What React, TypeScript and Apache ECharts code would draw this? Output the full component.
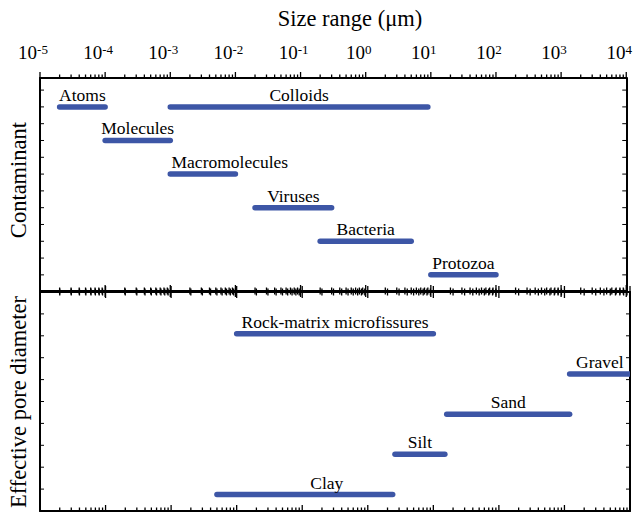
import React, { useEffect, useRef } from 'react';
import * as echarts from 'echarts';

const FONT = 'Liberation Serif';
const BAR_COLOR = '#3D56A6';

// Top panel: contaminants (size range in µm)
const contaminantNames = ['Atoms', 'Colloids', 'Molecules', 'Macromolecules', 'Viruses', 'Bacteria', 'Protozoa'];
const contaminantMin = [2e-5, 1e-3, 1e-4, 1e-3, 0.02, 0.2, 10];
const contaminantMax = [1e-4, 9, 1e-3, 1e-2, 0.3, 5, 100];
const contaminantRow = [1, 1, 2, 3, 4, 5, 6];

// Bottom panel: effective pore diameter (µm)
const poreNames = ['Rock-matrix microfissures', 'Gravel', 'Sand', 'Silt', 'Clay'];
const poreMin = [0.01, 1200, 16, 2.6, 0.005];
const poreMax = [10, 10000, 1200, 15, 2.4];
const poreRow = [1, 2, 3, 4, 5];

// Axis: decade exponents
const exponentMin = -5;
const exponentMax = 4;

const labelShift: Record<string, number> = { Macromolecules: 27, Clay: 22 };

const majorTicks: number[] = [];
for (let n = exponentMin; n <= exponentMax; n++) majorTicks.push(n);
const minorTicks: number[] = [];
for (let n = exponentMin; n < exponentMax; n++) {
  for (let k = 2; k <= 9; k++) minorTicks.push(n + Math.log10(k));
}

const topMin = 0.14;
const topMax = 6.48;
const topTicks: number[] = [];
for (let t = 0.5; t <= 6.01; t += 0.5) topTicks.push(t);
const botMin = -0.04;
const botMax = 5.41;
const botTicks: number[] = [];
for (let k = 1; k < 10; k++) botTicks.push(botMin + (k * (botMax - botMin)) / 10);

const xAxisDef = (grid: number, pos: string, showLabel: boolean) => ({
  type: 'value',
  gridIndex: grid,
  position: pos,
  min: exponentMin,
  max: exponentMax,
  interval: 1,
  axisLine: { show: true, onZero: false, lineStyle: { color: '#000', width: 2 } },
  axisTick: { show: false },
  axisLabel: showLabel
    ? {
        show: true,
        margin: 16,
        formatter: (v: number) => `{b|10}{s|${v}}`,
        rich: {
          b: { fontSize: 19, fontFamily: FONT, color: '#000' },
          s: { fontSize: 13, fontFamily: FONT, color: '#000', verticalAlign: 'top', padding: [0, 14, 0, 0] },
        },
      }
    : { show: false },
  splitLine: { show: false },
});

const yAxisDef = (grid: number, pos: string, min: number, max: number) => ({
  type: 'value',
  gridIndex: grid,
  position: pos,
  min,
  max,
  inverse: true,
  axisLine: { show: true, onZero: false, lineStyle: { color: '#000', width: 2 } },
  axisTick: { show: false },
  axisLabel: { show: false },
  splitLine: { show: false },
});

// Tick marks drawn through the axes' scales (-1 = up, +1 = down)
const tickRenderer = (
  yMin: number,
  yMax: number,
  yTicks: number[],
  topDirs: number[],
  bottomDirs: number[]
) => (_params: any, api: any) => {
  const children: any[] = [];
  const stroke = { stroke: '#000', lineWidth: 1.3 };
  const addX = (vals: number[], len: number) => {
    for (const v of vals) {
      const pTop = api.coord([v, yMin]);
      const pBot = api.coord([v, yMax]);
      for (const d of topDirs)
        children.push({ type: 'line', shape: { x1: pTop[0], y1: pTop[1], x2: pTop[0], y2: pTop[1] + d * len }, style: stroke });
      for (const d of bottomDirs)
        children.push({ type: 'line', shape: { x1: pBot[0], y1: pBot[1], x2: pBot[0], y2: pBot[1] + d * len }, style: stroke });
    }
  };
  addX(majorTicks, 6);
  addX(minorTicks, 3.5);
  for (const t of yTicks) {
    const pL = api.coord([exponentMin, t]);
    const pR = api.coord([exponentMax, t]);
    children.push({ type: 'line', shape: { x1: pL[0], y1: pL[1], x2: pL[0] + 4, y2: pL[1] }, style: { stroke: '#000', lineWidth: 1 } });
    children.push({ type: 'line', shape: { x1: pR[0], y1: pR[1], x2: pR[0] - 4, y2: pR[1] }, style: { stroke: '#000', lineWidth: 1 } });
  }
  return { type: 'group', children };
};

const renderBar = (names: string[]) => (params: any, api: any) => {
  const s = api.coord([api.value(0), api.value(2)]);
  const e = api.coord([api.value(1), api.value(2)]);
  const name = names[params.dataIndex];
  const shift = labelShift[name] || 0;
  return {
    type: 'group',
    children: [
      {
        type: 'line',
        shape: { x1: s[0], y1: s[1], x2: e[0], y2: e[1] },
        style: { stroke: BAR_COLOR, lineWidth: 5.5, lineCap: 'round' },
      },
      {
        type: 'text',
        x: (s[0] + e[0]) / 2 + shift,
        y: s[1] - 12,
        style: {
          text: name,
          fill: '#000',
          fontSize: 17.5,
          fontFamily: FONT,
          align: 'center',
          verticalAlign: 'middle',
        },
      },
    ],
  };
};

export default function App() {
  const ref = useRef<HTMLDivElement>(null);
  useEffect(() => {
    if (!ref.current) return;
    const chart = echarts.init(ref.current, undefined, { renderer: 'svg' });
    const topData = contaminantNames.map((n, i) => [
      Math.log10(contaminantMin[i]),
      Math.log10(contaminantMax[i]),
      contaminantRow[i],
    ]);
    const botData = poreNames.map((n, i) => [Math.log10(poreMin[i]), Math.log10(poreMax[i]), poreRow[i]]);
    chart.setOption({
      animation: false,
      backgroundColor: '#fff',
      grid: [
        { left: 40, width: 590, top: 78, height: 213 },
        { left: 40, width: 590, top: 292, height: 219 },
      ],
      xAxis: [xAxisDef(0, 'top', true), xAxisDef(0, 'bottom', false), xAxisDef(1, 'top', false), xAxisDef(1, 'bottom', false)],
      yAxis: [
        yAxisDef(0, 'left', topMin, topMax),
        yAxisDef(0, 'right', topMin, topMax),
        yAxisDef(1, 'left', botMin, botMax),
        yAxisDef(1, 'right', botMin, botMax),
      ],
      graphic: [
        {
          type: 'text',
          x: 350,
          y: 18,
          style: { text: 'Size range (μm)', fontSize: 22.5, fontFamily: FONT, fill: '#000', align: 'center', verticalAlign: 'middle' },
        },
        {
          type: 'text',
          x: 18,
          y: 180,
          rotation: Math.PI / 2,
          style: { text: 'Contaminant', fontSize: 22.5, fontFamily: FONT, fill: '#000', align: 'center', verticalAlign: 'middle' },
        },
        {
          type: 'text',
          x: 18,
          y: 402,
          rotation: Math.PI / 2,
          style: {
            text: 'Effective pore diameter',
            fontSize: 22.5,
            fontFamily: FONT,
            fill: '#000',
            align: 'center',
            verticalAlign: 'middle',
          },
        },
      ],
      series: [
        {
          type: 'custom',
          xAxisIndex: 0,
          yAxisIndex: 0,
          clip: false,
          silent: true,
          renderItem: tickRenderer(topMin, topMax, topTicks, [-1], [-1, 1]),
          data: [[0, 1]],
        },
        {
          type: 'custom',
          xAxisIndex: 2,
          yAxisIndex: 2,
          clip: false,
          silent: true,
          renderItem: tickRenderer(botMin, botMax, botTicks, [-1, 1], [-1]),
          data: [[0, 1]],
        },
        {
          type: 'custom',
          xAxisIndex: 0,
          yAxisIndex: 0,
          clip: true,
          renderItem: renderBar(contaminantNames),
          encode: { x: [0, 1], y: 2 },
          data: topData,
        },
        {
          type: 'custom',
          xAxisIndex: 2,
          yAxisIndex: 2,
          clip: true,
          renderItem: renderBar(poreNames),
          encode: { x: [0, 1], y: 2 },
          data: botData,
        },
      ],
    });
    return () => chart.dispose();
  }, []);
  return <div ref={ref} style={{ width: 635, height: 516, position: 'absolute', left: 0, top: 0 }} />;
}
